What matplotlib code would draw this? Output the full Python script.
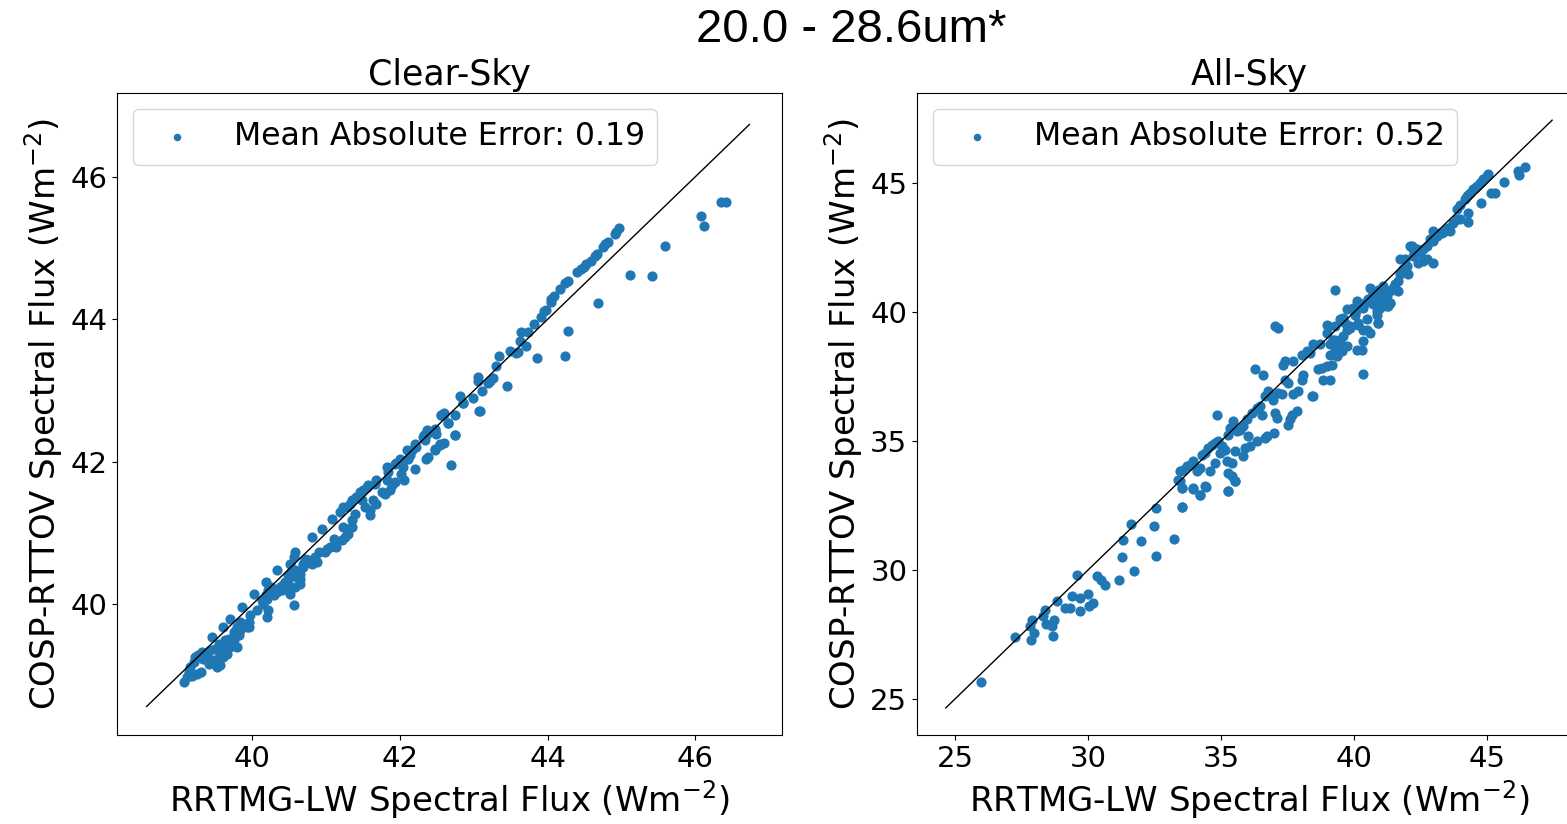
import matplotlib.pyplot as plt
import numpy as np

# values (x = RRTMG-LW, y = COSP-RTTOV)
clear_sky = [
    (46.35, 45.64), (46.41, 45.64), (46.08, 45.44), (46.12, 45.31), (45.59, 45.03), (45.12, 44.62),
    (45.41, 44.61), (44.68, 44.23), (44.27, 43.83), (44.23, 43.48), (43.86, 43.45), (43.45, 43.07),
    (43.08, 42.71), (42.74, 42.37),
    (44.97, 45.28), (44.93, 45.22), (44.91, 45.19), (44.82, 45.08), (44.78, 45.05), (44.75, 45.01),
    (44.66, 44.92), (44.64, 44.89), (44.58, 44.82), (44.52, 44.78), (44.49, 44.73), (44.45, 44.71),
    (44.40, 44.66), (44.27, 44.54), (44.24, 44.51), (44.16, 44.43), (44.09, 44.33), (44.05, 44.29),
    (44.04, 44.24), (43.97, 44.13), (43.95, 44.12), (43.91, 44.03), (43.82, 43.93), (43.73, 43.82),
    (43.64, 43.82), (43.62, 43.70), (43.70, 43.63), (43.60, 43.54), (43.57, 43.52), (43.49, 43.56),
    (43.34, 43.48), (43.30, 43.35), (43.26, 43.17), (43.22, 43.14), (43.19, 43.11), (43.06, 43.19),
    (43.06, 43.14), (43.11, 43.00), (42.99, 42.89), (42.85, 42.83), (42.81, 42.92), (42.65, 42.54),
    (42.59, 42.67), (42.56, 42.65), (42.47, 42.45), (42.36, 42.45), (42.32, 42.37), (42.54, 42.25),
    (42.47, 42.18),
    (42.85, 42.82), (42.59, 42.68), (42.56, 42.65), (42.74, 42.65), (43.07, 42.71), (42.65, 42.54),
    (42.74, 42.37), (42.69, 41.95), (42.47, 42.46), (42.49, 42.39), (42.36, 42.39), (42.31, 42.35),
    (42.34, 42.30), (42.59, 42.26), (42.54, 42.23), (42.47, 42.16), (42.38, 42.07), (42.35, 42.04),
    (42.20, 42.25), (42.22, 42.21), (42.16, 42.16), (42.09, 42.16), (42.13, 42.09), (42.11, 42.04),
    (42.20, 41.90), (42.00, 42.04), (41.95, 41.99), (41.93, 41.97), (42.04, 41.93), (42.02, 41.83),
    (42.05, 41.74), (41.93, 41.72), (41.89, 41.67), (41.82, 41.93), (41.84, 41.86), (41.86, 41.60),
    (41.80, 41.55), (41.75, 41.58), (41.82, 41.74), (41.68, 41.74), (41.66, 41.69), (41.57, 41.67),
    (41.55, 41.65), (41.50, 41.60), (41.46, 41.58), (41.41, 41.51), (41.35, 41.46), (41.32, 41.41),
    (41.28, 41.37), (41.23, 41.37), (41.19, 41.29), (41.48, 41.46), (41.53, 41.37), (41.59, 41.32),
    (41.59, 41.25), (41.64, 41.46), (41.68, 41.41), (41.39, 41.27), (41.35, 41.18), (41.35, 41.08),
    (41.28, 41.06), (41.23, 41.08), (41.30, 40.99), (41.26, 40.94), (41.21, 40.90), (41.08, 41.20),
    (40.94, 41.06), (40.81, 40.94), (41.10, 40.92), (41.14, 40.80), (41.05, 40.80), (41.01, 40.78),
    (40.99, 40.73), (40.90, 40.73), (40.85, 40.66), (40.87, 40.59), (40.81, 40.57), (40.76, 40.62),
    (40.72, 40.64), (40.69, 40.57), (40.58, 40.73), (40.56, 40.66), (40.51, 40.57), (40.58, 40.48),
    (40.56, 40.41), (40.51, 40.43), (40.49, 40.34), (40.45, 40.31), (40.42, 40.27), (40.40, 40.20),
    (40.60, 40.38), (40.65, 40.36), (40.65, 40.29), (40.58, 40.24), (40.47, 40.22), (40.51, 40.15),
    (40.74, 40.62), (40.69, 40.52), (40.65, 40.43), (40.60, 40.38), (40.54, 40.48), (40.49, 40.41),
    (40.47, 40.31), (40.42, 40.27), (40.38, 40.24), (40.33, 40.48), (40.33, 40.17), (40.29, 40.13),
    (40.26, 40.24), (40.22, 40.20), (40.18, 40.31), (40.18, 40.13), (40.20, 40.08), (40.13, 40.06),
    (40.15, 40.01), (40.56, 39.99), (40.22, 39.92), (40.20, 39.82), (40.06, 39.92), (40.02, 40.15),
    (39.97, 39.85), (39.95, 39.75), (39.93, 39.68), (39.86, 39.96), (39.84, 39.64), (39.82, 39.57),
    (39.79, 39.68), (39.75, 39.61), (39.70, 39.80), (39.68, 39.52), (39.61, 39.68), (39.63, 39.50),
    (39.59, 39.40), (39.57, 39.29), (39.55, 39.45), (39.50, 39.38), (39.45, 39.54), (39.43, 39.36),
    (39.39, 39.29), (39.41, 39.17), (39.34, 39.24), (39.32, 39.33), (39.27, 39.29), (39.23, 39.26),
    (39.21, 39.19), (39.16, 39.12), (39.14, 39.05), (39.12, 38.98), (39.07, 38.91), (39.66, 39.31),
    (39.70, 39.40), (39.61, 39.26), (39.52, 39.12), (39.57, 39.15), (39.48, 39.22), (39.30, 39.05),
    (39.25, 39.03), (39.18, 39.00), (39.84, 39.75), (39.88, 39.73), (39.95, 39.68), (39.75, 39.50),
    (39.79, 39.40),
]

all_sky = [
    (25.98, 25.66), (27.27, 27.39), (27.86, 27.29), (27.96, 27.55), (27.89, 28.07), (27.83, 27.81),
    (28.40, 28.46), (28.31, 28.20), (28.43, 27.91), (28.65, 27.81), (28.73, 28.07), (28.68, 27.45),
    (28.83, 28.78), (29.15, 28.52), (29.34, 28.52), (29.40, 29.01), (29.69, 28.91), (29.69, 28.42),
    (29.99, 29.08), (30.02, 28.59), (30.18, 28.72), (29.59, 29.79), (30.34, 29.75), (30.50, 29.62),
    (30.63, 29.43), (31.17, 29.60), (31.72, 29.95), (31.28, 30.50), (31.32, 31.18), (31.62, 31.80),
    (32.00, 31.12), (32.47, 31.69), (32.56, 32.40), (32.54, 30.55), (33.23, 31.22), (33.53, 32.46),
    (33.53, 33.18), (33.93, 33.18), (34.22, 32.92), (34.42, 33.22), (35.26, 33.06), (35.54, 33.44),
    (33.47, 33.44), (33.52, 32.44),
    (33.40, 33.51), (33.52, 33.18), (33.46, 33.83), (33.58, 33.89), (33.71, 34.02), (33.84, 34.09),
    (33.96, 34.22), (34.09, 33.83), (34.21, 33.96), (34.27, 34.48), (34.40, 34.54), (34.52, 34.74),
    (34.65, 34.86), (34.78, 34.93), (34.90, 34.99), (35.03, 34.80), (34.96, 34.54), (35.15, 34.67),
    (33.94, 33.14), (34.21, 32.92), (34.40, 33.25), (34.59, 33.83), (34.78, 34.15), (35.21, 34.22),
    (35.40, 34.15), (35.28, 33.76), (35.40, 33.63), (35.53, 33.44), (35.28, 33.05), (35.53, 34.61),
    (35.28, 35.25), (35.34, 35.51), (35.46, 35.77), (35.59, 35.38), (35.71, 35.45), (35.84, 35.58),
    (35.97, 35.84), (34.84, 36.03), (36.03, 35.19), (35.90, 34.74), (35.84, 34.41), (36.09, 34.80),
    (36.34, 34.99), (36.72, 35.19), (36.65, 35.12), (37.01, 35.32), (36.53, 36.03), (36.15, 36.09),
    (36.34, 36.29), (36.47, 36.35), (36.65, 36.74), (36.78, 36.94), (36.91, 36.74), (36.97, 36.61),
    (37.03, 36.09), (37.09, 35.90), (37.16, 36.87), (37.28, 36.81), (37.41, 37.39), (37.53, 37.26),
    (37.59, 35.84), (37.53, 35.64), (37.66, 36.03), (37.85, 36.16), (37.72, 36.81), (37.91, 36.94),
    (38.03, 37.39), (38.10, 37.58), (38.41, 36.74), (38.47, 36.74), (37.34, 37.97), (37.41, 38.10),
    (37.72, 38.10), (38.03, 38.36), (38.22, 38.49), (38.35, 38.42), (38.72, 38.75), (38.66, 37.78),
    (38.79, 37.84), (38.97, 37.91), (39.16, 37.97), (39.10, 38.36), (39.29, 38.49), (39.35, 38.29),
    (39.54, 38.49), (39.72, 38.68), (38.85, 37.39), (39.10, 37.39), (40.35, 37.61), (40.10, 38.55),
    (40.29, 38.55), (39.29, 38.94), (39.41, 38.81), (39.60, 39.07), (39.72, 39.33), (39.85, 39.40),
    (39.66, 39.59), (38.97, 39.52), (39.54, 39.72), (40.16, 39.52), (40.48, 39.33), (40.35, 38.88),
    (40.04, 39.98), (40.23, 40.30), (40.10, 40.43), (40.35, 40.17), (40.54, 40.50), (40.73, 40.30),
    (40.85, 40.04), (40.98, 40.17), (40.92, 39.59), (41.29, 40.24), (41.35, 40.37), (41.10, 40.63),
    (40.98, 40.75), (41.17, 40.88), (41.48, 40.95), (41.67, 40.82), (40.60, 40.95), (39.29, 40.88),
    (37.03, 39.46), (37.16, 39.40), (36.28, 37.78), (36.59, 37.58),
    (46.43, 45.63), (46.18, 45.48), (46.22, 45.31), (45.64, 45.05), (45.30, 44.61), (45.17, 44.64),
    (44.76, 44.25), (44.99, 45.28), (44.86, 45.16), (44.74, 45.03), (44.61, 44.90), (44.49, 44.77),
    (44.36, 44.64), (44.24, 44.51), (44.17, 44.40), (43.99, 44.15), (43.86, 43.99), (44.30, 43.83),
    (44.30, 43.50), (43.86, 43.60), (43.73, 43.47), (43.55, 43.28), (43.42, 43.15), (43.30, 43.08),
    (43.11, 42.95), (42.98, 42.76), (42.86, 42.83), (42.73, 42.57), (42.61, 42.44), (42.48, 42.31),
    (42.36, 42.44), (42.23, 42.18), (42.11, 42.57), (41.98, 41.79), (41.85, 41.66), (41.73, 41.47),
    (41.67, 41.21), (41.54, 41.08), (41.42, 40.88), (41.23, 40.63), (42.42, 41.92), (42.61, 41.98),
    (42.73, 42.05), (42.98, 41.92), (42.04, 41.47), (40.91, 40.88), (41.10, 41.01), (40.66, 40.63),
    (41.35, 40.36), (40.98, 40.49), (40.54, 40.49), (40.41, 40.36), (40.23, 40.24), (40.16, 40.36),
    (40.10, 40.11), (39.97, 40.17), (40.04, 39.91), (39.72, 40.11), (39.60, 39.78), (39.47, 39.72),
    (39.29, 39.46), (39.04, 39.46), (38.97, 39.20), (39.85, 39.46), (40.16, 39.59), (40.48, 39.72),
    (40.35, 39.33), (40.85, 39.91), (40.91, 39.59), (40.60, 39.20), (39.47, 38.94), (39.60, 38.68),
    (39.22, 38.94), (38.47, 38.75), (39.10, 38.75),
    (45.05, 45.35), (44.80, 45.10), (44.55, 44.82), (44.30, 44.55), (43.99, 43.60), (43.48, 43.21),
    (42.98, 43.15), (43.23, 43.08), (41.92, 42.05), (41.73, 42.05), (42.23, 42.44), (42.17, 42.57),
    (41.23, 40.24), (43.61, 43.15),
]

clear_mae = 0.19
all_mae = 0.52

panels = [("Clear-Sky", clear_sky, clear_mae, (38.17, 47.17), (38.17, 47.17), (38.57, 46.73), [40, 42, 44, 46]),
          ("All-Sky", all_sky, all_mae, (23.57, 48.57), (23.6, 48.5), (24.65, 47.45), [25, 30, 35, 40, 45])]
# the right panel runs past the right edge of the figure, as in the original
positions = [[0.0747, 0.108, 0.4243, 0.779], [0.5852, 0.108, 0.4243, 0.779]]

fig = plt.figure(figsize=(15.67, 8.24), dpi=100)

for (title, pts, mae, xl, yl, line, ticks), pos in zip(panels, positions):
    ax = fig.add_axes(pos)
    pts = np.array(pts)
    ax.scatter(pts[:, 0], pts[:, 1], s=40, color='#1f77b4', label=f"Mean Absolute Error: {mae}")
    ax.plot(line, line, color='k', lw=1)
    ax.set_xlim(xl)
    ax.set_ylim(yl)
    ax.set_xticks(ticks)
    ax.set_yticks(ticks)
    ax.tick_params(labelsize=21)
    ax.set_title(title, fontsize=25)
    ax.set_xlabel("RRTMG-LW Spectral Flux (Wm$^{-2}$)", fontsize=24.5)
    ax.set_ylabel("COSP-RTTOV Spectral Flux (Wm$^{-2}$)", fontsize=24.5)
    ax.legend(loc='upper left', fontsize=22.7, markerscale=0.7)

fig.text(0.543, 0.963, "20.0 - 28.6um*", ha='center', va='center', fontsize=34, family='Liberation Sans')

fig.savefig("out.png", dpi=100)
